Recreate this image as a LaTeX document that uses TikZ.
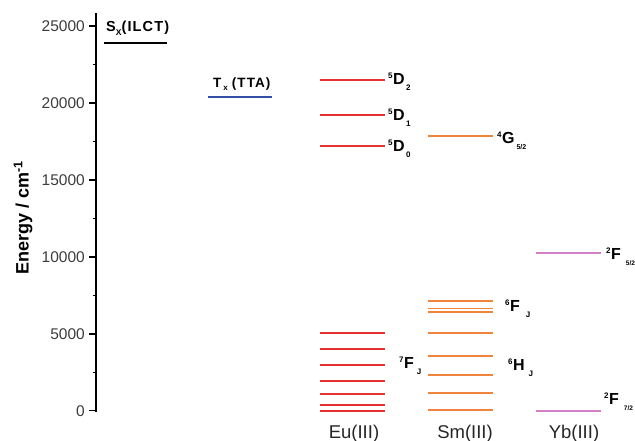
\documentclass[tikz,border=0pt]{standalone}
\usepackage{fontspec}
\setmainfont{Liberation Sans}
\newfontfamily\spacedbold[LetterSpace=8]{Liberation Sans Bold}
\definecolor{eucol}{RGB}{232,50,50}
\definecolor{smcol}{RGB}{240,132,60}
\definecolor{ybcol}{RGB}{208,128,200}
\definecolor{ttacol}{RGB}{50,80,165}
\definecolor{tickcol}{RGB}{60,60,60}
% energies in units of 1000 cm^-1
\newcommand\ey[1]{410.7-(#1)*15.38}
\newcommand\term[5][1.5pt]{\raisebox{6pt}{\fontsize{8}{8}\selectfont\bfseries #2}\kern0.5pt{\fontsize{16}{16}\selectfont\bfseries #3}\kern#1\raisebox{-6pt}{\fontsize{#5}{#5}\selectfont\bfseries #4}}
\begin{document}
\begin{tikzpicture}[x=1pt,y=-1pt,
  lev/.style={line width=1.8pt},
  eu/.style={lev,draw=eucol},
  sm/.style={lev,draw=smcol},
  yb/.style={lev,draw=ybcol},
  tlab/.style={anchor=base west,inner sep=0pt},
  ticklab/.style={anchor=east,inner sep=0pt,text=tickcol,font=\fontsize{15.5}{15.5}\selectfont},
  ionlab/.style={anchor=base,inner sep=0pt,font=\fontsize{18.5}{18.5}\selectfont,text=black!85}]
\useasboundingbox (0,0) rectangle (635,441);
% axis
\coordinate (axtop) at (96,13);
\coordinate (axbot) at (96,411.6);
\draw[line width=1.8pt] (axtop) -- (axbot);
\foreach \e/\t in {0/0,5/5000,10/10000,15/15000,20/20000,25/25000}{
  \draw[line width=1.5pt] (89,{\ey{\e}}) -- (96,{\ey{\e}});
  \node[ticklab] (t\e) at (85,{\ey{\e}}) {\t};
}
\foreach \e in {2.5,7.5,12.5,17.5,22.5}{
  \draw[line width=1.5pt] (92.5,{\ey{\e}}) -- (96,{\ey{\e}});
}
\node[rotate=90,inner sep=0pt,font=\fontsize{18}{18}\selectfont\bfseries] (ylab) at (23,218) {Energy / cm\textsuperscript{-1}};
% S_x
\coordinate (sa) at (104,{\ey{23.89}});
\coordinate (sb) at (167,{\ey{23.89}});
\draw[lev,draw=black] (sa) -- (sb);
\node[tlab,font=\fontsize{14.5}{14.5}\spacedbold] (slab) at (106,32) {S\raisebox{-3.5pt}{\fontsize{8.5}{8.5}\selectfont X}(ILCT)};
% T_x
\coordinate (ta) at (208,{\ey{20.42}});
\coordinate (tb) at (272,{\ey{20.42}});
\draw[lev,draw=ttacol] (ta) -- (tb);
\node[tlab,font=\fontsize{13.5}{13.5}\spacedbold] (tlab) at (213,87.5) {T\kern2pt\raisebox{-3.5pt}{\fontsize{8}{8}\selectfont x}\kern4pt(TTA)};
% Eu
\foreach \e in {21.5,19.21,17.21,5.03,4.01,2.95,1.91,1.10,0.37,0}{
  \draw[eu] (320,{\ey{\e}}) -- (385,{\ey{\e}});
}
\node[tlab] (d2) at (388,84.8) {\term{5}{D}{2}{8}};
\node[tlab] (d1) at (388,120.2) {\term{5}{D}{1}{8}};
\node[tlab] (d0) at (388,151.2) {\term{5}{D}{0}{8}};
\node[tlab] (f7) at (399,368.8) {\term[3pt]{7}{F}{J}{8}};
% Sm
\foreach \e in {17.88,7.13,6.64,6.42,5.03,3.58,2.34,1.13,0.04}{
  \draw[sm] (428,{\ey{\e}}) -- (493,{\ey{\e}});
}
\node[tlab] (g52) at (497,143.8) {\term[2pt]{4}{G}{5/2}{7}};
\node[tlab] (f6) at (505,311.8) {\term[6pt]{6}{F}{J}{8}};
\node[tlab] (h6) at (508,370.8) {\term[4pt]{6}{H}{J}{8}};
% Yb
\foreach \e in {10.23,0}{
  \draw[yb] (536,{\ey{\e}}) -- (601,{\ey{\e}});
}
\node[tlab] (f52) at (606,259.3) {\term[5pt]{2}{F}{5/2}{6.5}};
\node[tlab] (f72) at (604,404.3) {\term[5pt]{2}{F}{7/2}{6.5}};
% ion labels
\node[ionlab] (eu) at (354,438) {Eu(III)};
\node[ionlab] (sm) at (465,438) {Sm(III)};
\node[ionlab] (yb) at (574,438) {Yb(III)};
\end{tikzpicture}
\end{document}
